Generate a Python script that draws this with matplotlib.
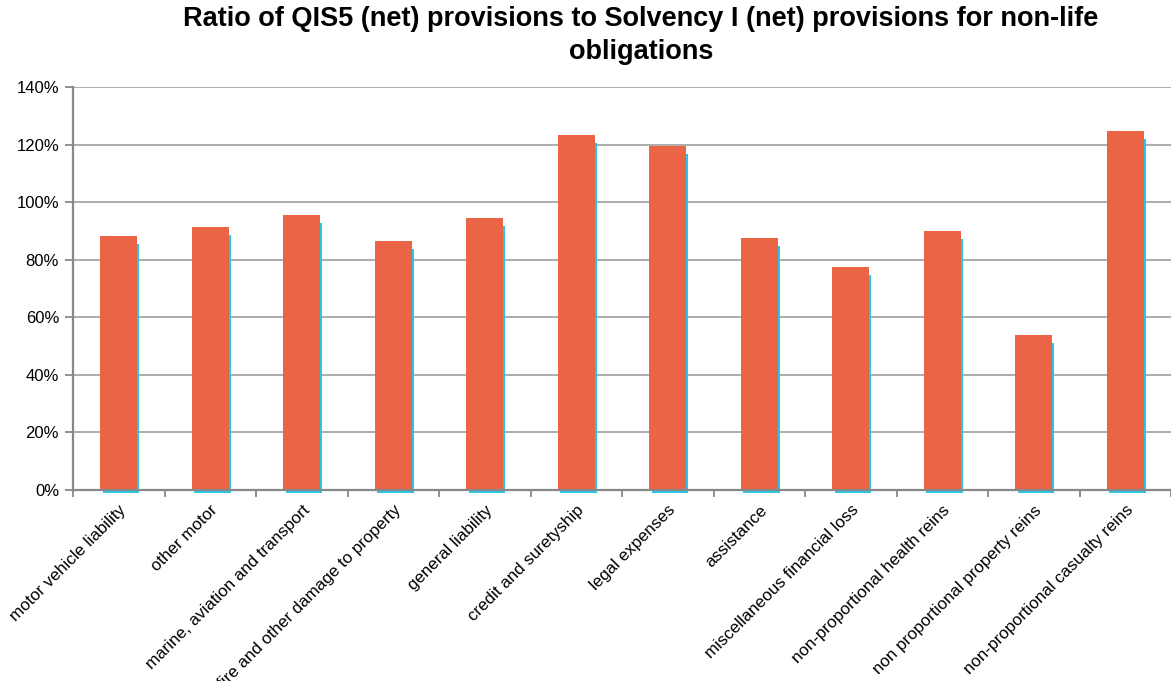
import numpy as np
import matplotlib.pyplot as plt
from matplotlib.ticker import PercentFormatter, FixedLocator

categories = [
    "motor vehicle liability",
    "other motor",
    "marine, aviation and transport",
    "fire and other damage to property",
    "general liability",
    "credit and suretyship",
    "legal expenses",
    "assistance",
    "miscellaneous financial loss",
    "non-proportional health reins",
    "non proportional property reins",
    "non-proportional casualty reins",
]
ratios = [88.2, 91.3, 95.5, 86.5, 94.4, 123.2, 119.4, 87.5, 77.4, 89.9, 53.8, 124.6]

TITLE = "Ratio of QIS5 (net) provisions to Solvency I (net) provisions for non-life\nobligations"

plt.rcParams["font.family"] = ["Liberation Sans", "DejaVu Sans"]

fig = plt.figure(figsize=(11.71, 6.81), dpi=100)
ax = fig.add_axes([73 / 1171, 1 - 490 / 681, 1 - 73 / 1171, (490 - 87) / 681])

x = np.arange(len(categories))
vals = np.array(ratios)
width = 0.4

# cyan "shadow" bars behind the main series
ax.bar(x + 0.025, vals - 1.8, width=width, bottom=-1.0, color="#29C5E6",
       zorder=2, clip_on=False)
ax.bar(x, vals, width=width, color="#EC6446", zorder=3)

ax.set_xlim(-0.5, len(categories) - 0.5)
ax.set_ylim(0, 140)
ax.set_yticks(np.arange(0, 141, 20))
ax.yaxis.set_major_formatter(PercentFormatter(decimals=0))
ax.grid(True, axis="y", color="#A6A6A6", linewidth=1.3, zorder=0)

ax.set_xticks(x)
ax.set_xticklabels(categories, rotation=45, ha="right", rotation_mode="anchor",
                   fontsize=12.2)
ax.xaxis.set_minor_locator(FixedLocator(np.arange(-0.5, len(categories), 1)))
ax.tick_params(axis="x", which="major", length=0, pad=9)
ax.tick_params(axis="x", which="minor", length=5, color="#888888", width=1.3)
ax.tick_params(axis="y", length=6, color="#888888", width=1.3, labelsize=12, pad=4)

for s in ["top", "right"]:
    ax.spines[s].set_visible(False)
for s in ["left", "bottom"]:
    ax.spines[s].set_color("#888888")
    ax.spines[s].set_linewidth(1.6)
    ax.spines[s].set_zorder(4)

fig.text(641 / 1171, 1 - 6 / 681, TITLE, ha="center", va="top",
         fontsize=19.5, fontweight="bold", linespacing=1.35)

fig.savefig("out.png", dpi=100)
